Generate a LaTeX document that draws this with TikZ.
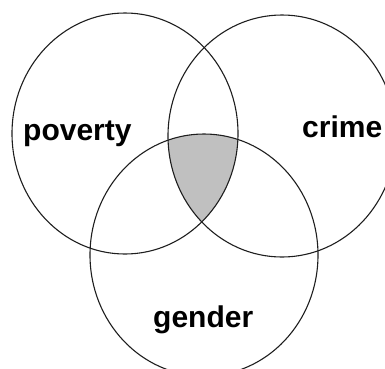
\documentclass[tikz,border=0pt]{standalone}
\usepackage{fontspec}
\setmainfont{Liberation Sans}
\definecolor{venngray}{RGB}{192,192,192}
\definecolor{ink}{RGB}{30,30,30}
\begin{document}
\begin{tikzpicture}[x=1pt,y=-1pt,
  ring/.style={draw=ink, line width=1.1pt},
  lbl/.style={font=\fontsize{30}{36}\selectfont\bfseries, inner sep=0pt, anchor=base west}]
\useasboundingbox (0,0) rectangle (385,368);
\coordinate (P) at (125,133.5);
\coordinate (C) at (282,136);
\coordinate (G) at (204,255);
\begin{scope}
  \clip (P) ellipse [x radius=113, y radius=120.5];
  \clip (C) ellipse [x radius=114, y radius=121];
  \fill[venngray] (G) ellipse [x radius=114, y radius=121];
\end{scope}
\draw[ring] (P) ellipse [x radius=113, y radius=120.5];
\draw[ring] (C) ellipse [x radius=114, y radius=121];
\draw[ring] (G) ellipse [x radius=114, y radius=121];
\node[lbl] (poverty) at (23,140) {poverty};
\node[lbl] (crime) at (302,137) {crime};
\node[lbl] (gender) at (153,327) {gender};
\end{tikzpicture}
\end{document}
